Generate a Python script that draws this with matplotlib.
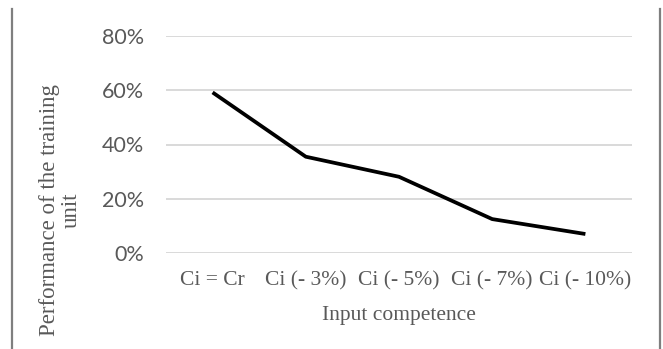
import matplotlib
matplotlib.use("Agg")
import matplotlib.pyplot as plt
from matplotlib.lines import Line2D
from matplotlib.ticker import FuncFormatter

categories = ["Ci = Cr", "Ci (- 3%)", "Ci (- 5%)", "Ci (- 7%)", "Ci (- 10%)"]
performance = [0.592, 0.355, 0.281, 0.125, 0.070]
y_ticks = [0.0, 0.2, 0.4, 0.6, 0.8]

W, H = 663, 349
fig = plt.figure(figsize=(W / 100, H / 100), dpi=100)
ax = fig.add_axes([166 / W, (H - 253) / H, (632 - 166) / W, (253 - 36) / H])

x = list(range(len(categories)))
ax.plot(x, performance, color="black", linewidth=2.7, solid_capstyle="butt", zorder=3)

ax.set_xlim(-0.5, len(categories) - 0.5)
ax.set_ylim(0, 0.8)
ax.set_yticks(y_ticks)
ax.yaxis.set_major_formatter(FuncFormatter(lambda v, p: f"{v*100:.0f}%"))
ax.set_xticks(x)
ax.set_xticklabels(categories, fontfamily="Liberation Serif", fontsize=15.5, color="#595959")
for lab in ax.get_yticklabels():
    lab.set_fontfamily("Lato")
    lab.set_fontsize(15.5)
    lab.set_color("#595959")
ax.tick_params(axis="both", length=0)
ax.tick_params(axis="y", pad=16)
ax.tick_params(axis="x", pad=13)
ax.grid(axis="y", color="#d9d9d9", linewidth=1.4)
ax.set_axisbelow(True)
for s in ax.spines.values():
    s.set_visible(False)

ax.set_xlabel("Input competence", fontfamily="Liberation Serif", fontsize=15.5,
              color="#595959", labelpad=11)

fig.text(60 / W, (H - 210) / H, "Performance of the training\nunit",
         rotation=90, ha="center", va="center", multialignment="center",
         fontfamily="Liberation Serif", fontsize=16.5, color="#595959",
         linespacing=1.05)

fig.add_artist(Line2D([12 / W, 12 / W], [0, (H - 9) / H], color="#7f7f7f", linewidth=1.6))
fig.add_artist(Line2D([660 / W, 660 / W], [0, (H - 9) / H], color="#7f7f7f", linewidth=1.6))

fig.savefig("out.png", dpi=100)
